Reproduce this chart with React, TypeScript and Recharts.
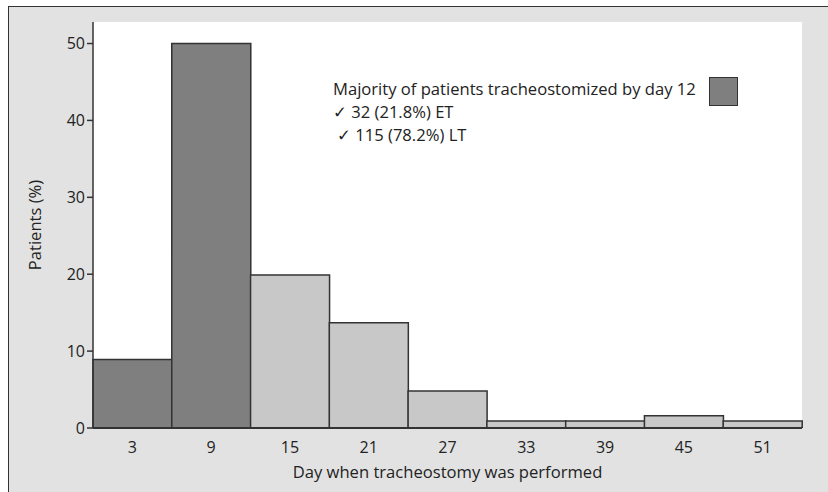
import React from "react";
import { BarChart, Bar, XAxis, YAxis, CartesianGrid, Cell } from "recharts";

const days = ["3", "9", "15", "21", "27", "33", "39", "45", "51"];
const patientsPct = [8.9, 50, 19.9, 13.7, 4.8, 0.9, 0.9, 1.6, 0.9];
// true = tracheostomized by day 12 (dark bars)
const byDay12 = [true, true, false, false, false, false, false, false, false];
const yTicks = [0, 10, 20, 30, 40, 50];

const data = days.map((day, i) => ({
  day,
  value: patientsPct[i],
  early: byDay12[i],
}));

const FONT = "'Open Sans', 'DejaVu Sans', sans-serif";
const DARK = "#7f7f7f";
const LIGHT = "#c8c8c8";

export default function App() {
  return (
    <div
      style={{
        position: "absolute",
        left: 0,
        top: 0,
        width: 828,
        height: 492,
        background: "#fff",
        fontFamily: FONT,
      }}
    >
      <div
        style={{
          position: "absolute",
          left: 8,
          top: 6,
          width: 820,
          height: 486,
          background: "#e2e2e2",
          borderLeft: "1.5px solid #333",
          borderTop: "1.5px solid #333",
        }}
      />
      <div style={{ position: "absolute", left: 0, top: 0 }}>
        <BarChart
          width={828}
          height={492}
          data={data}
          barCategoryGap={0}
          margin={{ top: 22, right: 26, left: 33, bottom: 10 }}
        >
          <CartesianGrid fill="#ffffff" horizontal={false} vertical={false} />
          <XAxis
            dataKey="day"
            height={54}
            axisLine={{ stroke: "#333", strokeWidth: 2 }}
            tickLine={false}
            tick={{ fill: "#222", fontSize: 16, fontFamily: FONT }}
            tickMargin={8}
            label={{
              value: "Day when tracheostomy was performed",
              position: "insideBottom",
              offset: 4,
              fill: "#222",
              fontSize: 16.6,
              fontFamily: FONT,
            }}
          />
          <YAxis
            width={60}
            domain={[0, 52.8]}
            ticks={yTicks}
            allowDataOverflow
            axisLine={{ stroke: "#333", strokeWidth: 1.5 }}
            tickLine={{ stroke: "#333", strokeWidth: 1.5 }}
            tickSize={6}
            tick={{ fill: "#222", fontSize: 16, fontFamily: FONT }}
            label={{
              value: "Patients (%)",
              angle: -90,
              position: "insideLeft",
              offset: 2,
              fill: "#222",
              fontSize: 16.6,
              fontFamily: FONT,
              style: { textAnchor: "middle" },
            }}
          />
          <Bar dataKey="value" stroke="#333" strokeWidth={1.5} isAnimationActive={false}>
            {data.map((d, i) => (
              <Cell key={i} fill={d.early ? DARK : LIGHT} />
            ))}
          </Bar>
        </BarChart>
      </div>
      <div
        style={{
          position: "absolute",
          left: 333,
          top: 77,
          fontSize: 16.6,
          lineHeight: "23px",
          color: "#222",
        }}
      >
        <div>Majority of patients tracheostomized by day 12</div>
        <div>✓ 32 (21.8%) ET</div>
        <div style={{ paddingLeft: 4 }}>✓ 115 (78.2%) LT</div>
      </div>
      <div
        style={{
          position: "absolute",
          left: 709,
          top: 77,
          width: 27,
          height: 27,
          background: DARK,
          border: "1.5px solid #333",
        }}
      />
    </div>
  );
}
